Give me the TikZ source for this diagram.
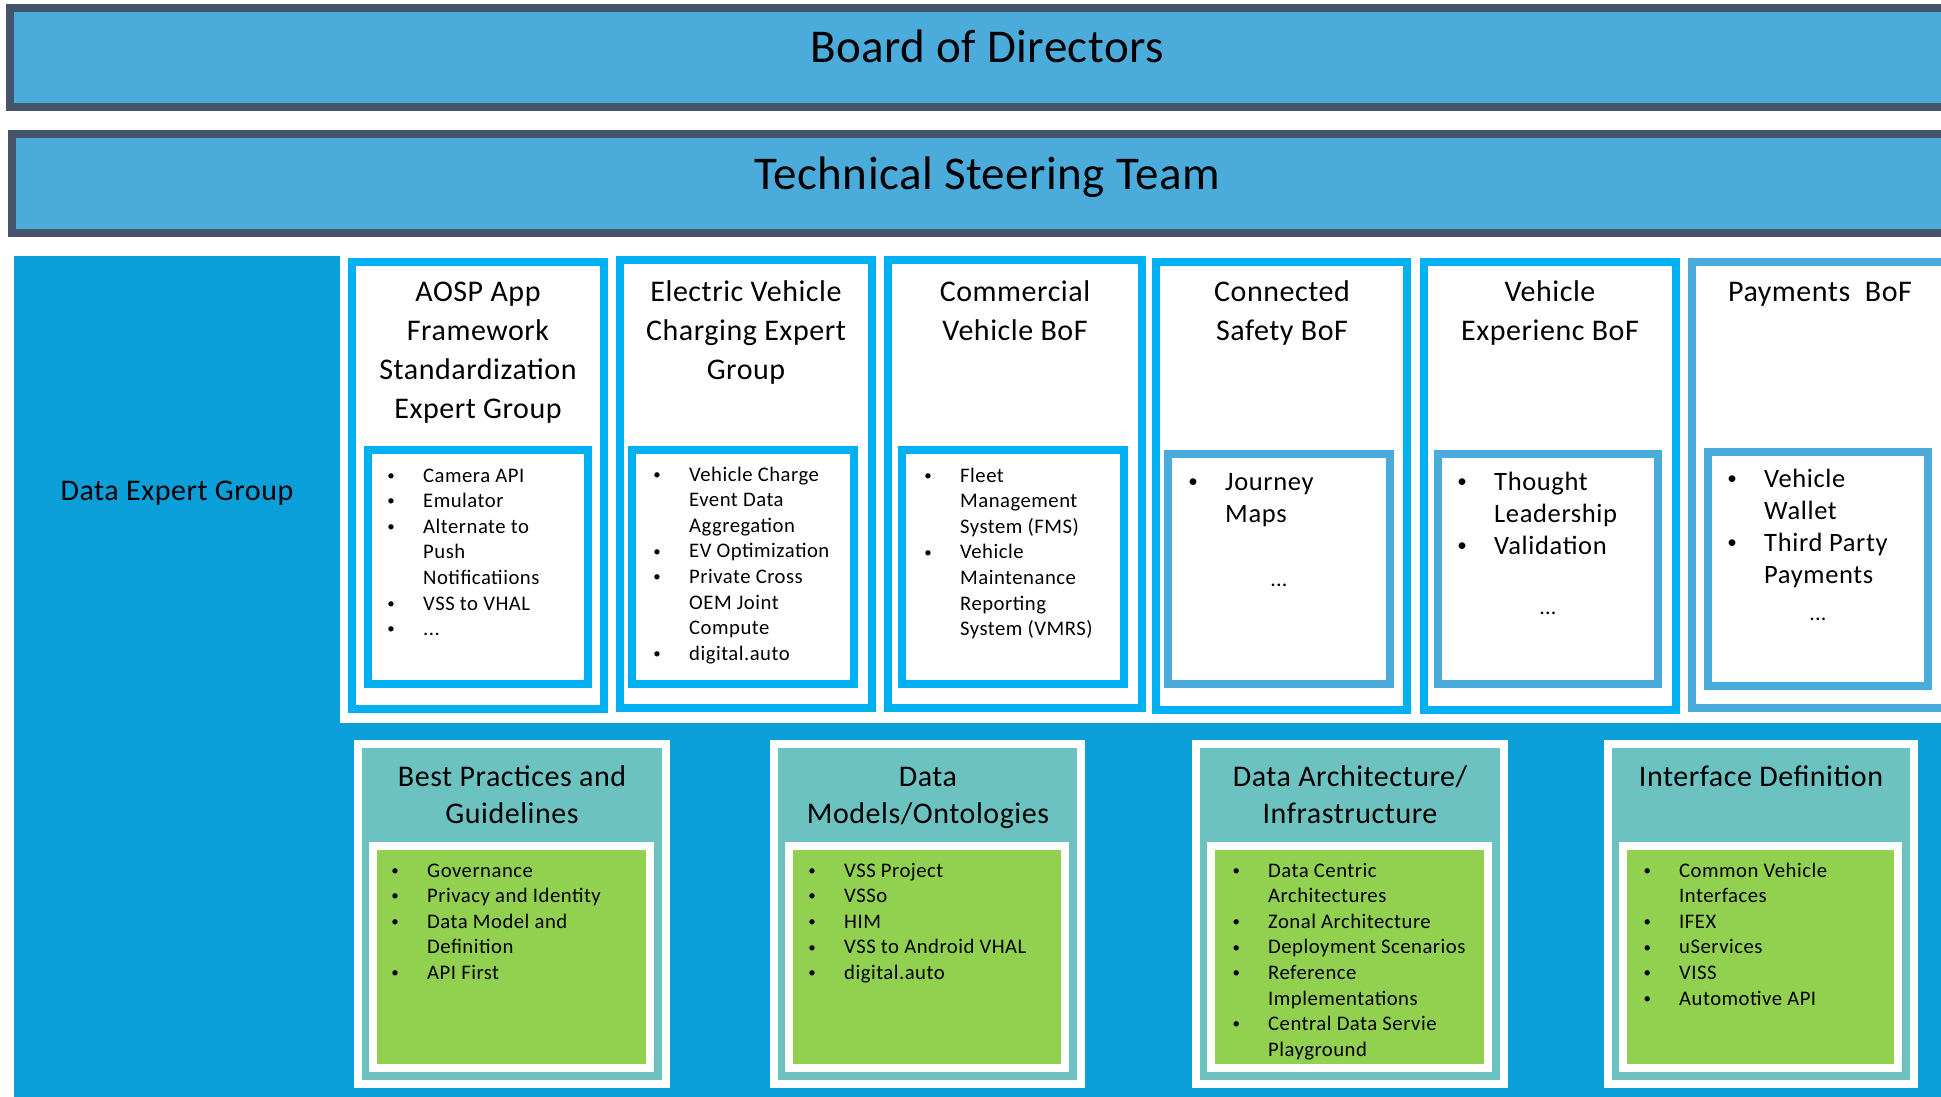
\documentclass[tikz,border=0pt]{standalone}
\usepackage{fontspec}
\setmainfont[LetterSpace=1]{Carlito}
\newfontfamily\ttlfont[LetterSpace=1.8]{Carlito}
\newfontfamily\lstfont[LetterSpace=2.4]{Carlito}
\definecolor{slate}{HTML}{44546A}
\definecolor{boardblue}{HTML}{4BACDC}
\definecolor{degblue}{HTML}{0A9FD9}
\definecolor{cyanb}{HTML}{00B0F0}
\definecolor{lightb}{HTML}{4BABDB}
\definecolor{tealf}{HTML}{6BC2C0}
\definecolor{greenf}{HTML}{92D050}
\newcommand{\frm}[7]{%
  \fill[#6] (#1,#2) rectangle (#3,#4);
  \fill[#7] ({#1+#5},{#2+#5}) rectangle ({#3-#5},{#4-#5});}
\newcommand{\bu}{\makebox[32pt][l]{\makebox[0pt]{\raisebox{0.08em}{\scalebox{0.72}{•}}}}}
\newcommand{\nb}{\makebox[32pt]{}}
\newcommand{\tl}[1]{\begin{tabular}[t]{@{}c@{}}#1\end{tabular}}
\newcommand{\ls}[1]{\begin{tabular}[t]{@{}l@{}}#1\end{tabular}}
\begin{document}
\begin{tikzpicture}[x=1pt,y=-1pt,
  ttl/.style={anchor=base, inner sep=0pt, font=\ttlfont\fontsize{30}{39}\selectfont},
  bttl/.style={anchor=base, inner sep=0pt, font=\ttlfont\fontsize{30}{37.5}\selectfont},
  slist/.style={anchor=base west, inner sep=0pt, font=\lstfont\fontsize{20.7}{25.6}\selectfont},
  blist/.style={anchor=base west, inner sep=0pt, font=\lstfont\fontsize{26.5}{32}\selectfont},
  dots/.style={anchor=base, inner sep=0pt, font=\fontsize{22}{26}\selectfont},
  big/.style={anchor=base, inner sep=0pt, font=\fontsize{47}{56}\selectfont}]
\clip (0,0) rectangle (1941,1096);
\fill[white] (0,0) rectangle (1941,1096);
% top bars
\frm{6}{4}{1990}{111}{8}{slate}{boardblue}
\frm{8}{130}{1990}{237}{8}{slate}{boardblue}
\node[big] (bod) at (987,62) {Board of Directors};
\node[big] (tst) at (987,189) {Technical Steering Team};
% data expert group area
\fill[degblue] (14,256) rectangle (1990,1110);
\fill[white] (340,256) rectangle (1990,723);
\node[anchor=base, inner sep=0pt, font=\ttlfont\fontsize{30}{36}\selectfont] (deg) at (177,500) {Data Expert Group};
% top boxes
\frm{348}{258}{608}{713}{8}{cyanb}{white}
\frm{364}{446}{592}{688}{8}{cyanb}{white}
\frm{616}{256}{876}{712}{8}{cyanb}{white}
\frm{628}{446}{858}{688}{8}{cyanb}{white}
\frm{884}{256}{1146}{712}{8}{cyanb}{white}
\frm{898}{446}{1128}{688}{8}{cyanb}{white}
\frm{1152}{258}{1411}{714}{8}{cyanb}{white}
\frm{1164}{450}{1394}{688}{8}{lightb}{white}
\frm{1420}{258}{1680}{714}{8}{cyanb}{white}
\frm{1434}{450}{1662}{688}{8}{lightb}{white}
\frm{1688}{258}{1960}{712}{8}{lightb}{white}
\frm{1704}{448}{1932}{690}{8}{lightb}{white}
% titles
\node[ttl] (t1) at (478,301) {\tl{AOSP App\\Framework\\Standardization\\Expert Group}};
\node[ttl] (t2) at (746,301) {\tl{Electric Vehicle\\Charging Expert\\Group}};
\node[ttl] (t3) at (1015,301) {\tl{Commercial\\Vehicle BoF}};
\node[ttl] (t4) at (1282,301) {\tl{Connected\\Safety BoF}};
\node[ttl] (t5) at (1550,301) {\tl{Vehicle\\Experienc BoF}};
\node[ttl] (t6) at (1820,301) {\tl{Payments\ \ BoF}};
% lists
\node[slist] (l1) at (391,482) {\ls{\bu Camera API\\ \bu Emulator\\ \bu Alternate to\\ \nb Push\\ \nb Notificatiions\\ \bu VSS to VHAL\\ \bu ...}};
\node[slist] (l2) at (657,481) {\ls{\bu Vehicle Charge\\ \nb Event Data\\ \nb Aggregation\\ \bu EV Optimization\\ \bu Private Cross\\ \nb OEM Joint\\ \nb Compute\\ \bu digital.auto}};
\node[slist] (l3) at (928,482) {\ls{\bu Fleet\\ \nb Management\\ \nb System (FMS)\\ \bu Vehicle\\ \nb Maintenance\\ \nb Reporting\\ \nb System (VMRS)}};
\node[blist] (l4) at (1193,490) {\ls{\bu Journey\\ \nb Maps}};
\node[dots] (d4) at (1279,586) {...};
\node[blist] (l5) at (1462,490) {\ls{\bu Thought\\ \nb Leadership\\ \bu Validation}};
\node[dots] (d5) at (1548,614) {...};
\node[blist] (l6) at (1732,487) {\ls{\bu Vehicle\\ \nb Wallet\\ \bu Third Party\\ \nb Payments}};
\node[dots] (d6) at (1818,620) {...};
% bottom boxes
\frm{354}{740}{670}{1088}{8}{white}{tealf}
\frm{369}{842}{654}{1072}{8}{white}{greenf}
\frm{770}{740}{1085}{1088}{8}{white}{tealf}
\frm{785}{842}{1069}{1072}{8}{white}{greenf}
\frm{1192}{740}{1508}{1088}{8}{white}{tealf}
\frm{1207}{842}{1492}{1072}{8}{white}{greenf}
\frm{1604}{740}{1918}{1088}{8}{white}{tealf}
\frm{1619}{842}{1902}{1072}{8}{white}{greenf}
\node[bttl] (ba) at (512,786) {\tl{Best Practices and\\Guidelines}};
\node[bttl] (bb) at (928,786) {\tl{Data\\Models/Ontologies}};
\node[bttl] (bc) at (1350,786) {\tl{Data Architecture/\\Infrastructure}};
\node[bttl] (bd) at (1761,786) {\tl{Interface Definition}};
\node[slist] (ga) at (395,877) {\ls{\bu Governance\\ \bu Privacy and Identity\\ \bu Data Model and\\ \nb Definition\\ \bu API First}};
\node[slist] (gb) at (812,877) {\ls{\bu VSS Project\\ \bu VSSo\\ \bu HIM\\ \bu VSS to Android VHAL\\ \bu digital.auto}};
\node[slist] (gc) at (1236,877) {\ls{\bu Data Centric\\ \nb Architectures\\ \bu Zonal Architecture\\ \bu Deployment Scenarios\\ \bu Reference\\ \nb Implementations\\ \bu Central Data Servie\\ \nb Playground}};
\node[slist] (gd) at (1647,877) {\ls{\bu Common Vehicle\\ \nb Interfaces\\ \bu IFEX\\ \bu uServices\\ \bu VISS\\ \bu Automotive API}};
\end{tikzpicture}
\end{document}
